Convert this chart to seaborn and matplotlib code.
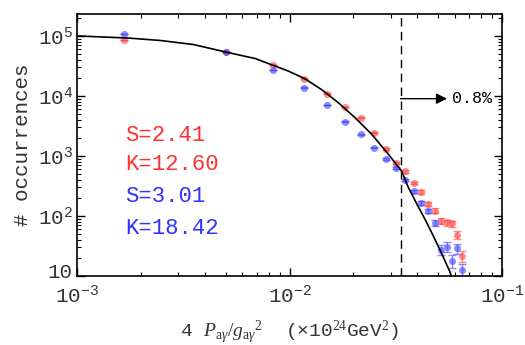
import matplotlib
matplotlib.use("Agg")
import matplotlib.pyplot as plt
import matplotlib.transforms as mtransforms
import seaborn as sns
from matplotlib.ticker import FixedLocator, LogLocator, NullFormatter, FixedFormatter

# ---- data ----
bin_x = [0.00167, 0.0050, 0.00833, 0.01167, 0.0150, 0.01833, 0.02167, 0.0250, 0.02833, 0.03167,
         0.0350, 0.03833, 0.04167, 0.0450, 0.04833, 0.05167, 0.0550, 0.05833, 0.06167, 0.0650]
red_counts = [86000, 54000, 32400, 19400, 10900, 6560, 4360, 2450, 1300, 767,
              551, 356, 250, 161, 123, 83, 78, 75, 49, 21.6]
red_err = [290, 230, 180, 140, 104, 81, 66, 49, 36, 28, 23, 19, 16, 13, 11, 9, 9, 9, 7, 4.6]
blue_counts = [107000, 54000, 27000, 13800, 7080, 3700, 2300, 1370, 877, 628,
               396, 260, 166, 121, 76, 27.6, 31, 18, 29, 12.4]
blue_err = [330, 230, 164, 117, 84, 61, 48, 37, 30, 25, 20, 16, 13, 11, 8.7, 5.3, 5.6, 4.2, 5.4, 3.5]

curve_x = [0.001, 0.00175, 0.00246, 0.00352, 0.005, 0.00689, 0.00986, 0.01183, 0.01418, 0.01698,
           0.02034, 0.02436, 0.02918, 0.0337, 0.0362, 0.0398, 0.0435, 0.0473, 0.052, 0.0569, 0.058]
curve_y = [100000, 92000, 84000, 72000, 54000, 42000, 26000, 19300, 12700, 7700,
           4340, 2300, 1070, 560, 302, 157, 87, 48, 23.7, 11.7, 9.5]

cut_x = 0.0333
arrow_end_x = 0.0551
arrow_y = 9000
pct_label = "0.8%"

stats_red = ["S=2.41", "K=12.60"]
stats_blue = ["S=3.01", "K=18.42"]

ytick_vals = [10, 100, 1000, 10000, 100000]
ytick_labels = ["10", r"$\mathdefault{10^{2}}$", r"$\mathdefault{10^{3}}$",
                r"$\mathdefault{10^{4}}$", r"$\mathdefault{10^{5}}$"]
xtick_vals = [0.001, 0.01, 0.1]
xtick_labels = [r"$\mathdefault{10^{-3}}$", r"$\mathdefault{10^{-2}}$", r"$\mathdefault{10^{-1}}$"]

# ---- style ----
sns.set_theme(style="ticks")
plt.rcParams["font.family"] = ["Liberation Mono", "DejaVu Sans"]
plt.rcParams["mathtext.fontset"] = "custom"
plt.rcParams["mathtext.rm"] = "Liberation Serif"
plt.rcParams["mathtext.it"] = "Liberation Serif:italic"
plt.rcParams["axes.unicode_minus"] = True

RED_PT = "#ff4040"
BLUE_PT = "#4040ff"
RED_TXT = "#ff3030"
BLUE_TXT = "#3030ff"

fig = plt.figure(figsize=(5.25, 3.45), dpi=100)
ax = fig.add_axes([77 / 525, 1 - 276 / 345, 425 / 525, 262 / 345])
ax.set_facecolor("white")
ax.set_xscale("log")
ax.set_yscale("log")
ax.set_xlim(1e-3, 1e-1)
ax.set_ylim(10, 10 ** 5.365)

# curve
sns.lineplot(x=curve_x, y=curve_y, ax=ax, color="black", lw=1.2, sort=False, zorder=3)

# data points with error bars
for xs, ys, es, col in [(bin_x, red_counts, red_err, RED_PT), (bin_x, blue_counts, blue_err, BLUE_PT)]:
    ax.errorbar(xs, ys, yerr=es, fmt="none", ecolor=col, elinewidth=1.0, capsize=3,
                capthick=1.0, alpha=0.6, zorder=2)
    sns.scatterplot(x=xs, y=ys, ax=ax, color=col, s=26, alpha=0.6, linewidth=0, zorder=2)

# cut line + arrow
ax.axvline(cut_x, color="black", lw=1.0, ls=(0, (6, 4)), zorder=1)
ax.annotate("", xy=(arrow_end_x, arrow_y), xytext=(cut_x, arrow_y),
            arrowprops=dict(arrowstyle="-|>", color="black", lw=1.0, mutation_scale=16,
                            shrinkA=0, shrinkB=0))
ax.text(0.0582, arrow_y, pct_label, fontsize=12, va="center", ha="left", color="black")

# stats text
ypos = [0.538, 0.424, 0.302, 0.183]
labels = stats_red + stats_blue
cols = [RED_TXT, RED_TXT, BLUE_TXT, BLUE_TXT]
for yp, t, c in zip(ypos, labels, cols):
    ax.text(0.113, yp, t, transform=ax.transAxes, color=c, fontsize=16, va="center", ha="left")

# ticks
ax.yaxis.set_major_locator(FixedLocator(ytick_vals))
ax.yaxis.set_major_formatter(FixedFormatter(ytick_labels))
ax.yaxis.set_minor_locator(LogLocator(base=10, subs=range(2, 10), numticks=20))
ax.yaxis.set_minor_formatter(NullFormatter())
ax.xaxis.set_major_locator(FixedLocator(xtick_vals))
ax.xaxis.set_major_formatter(FixedFormatter(xtick_labels))
ax.xaxis.set_minor_locator(LogLocator(base=10, subs=range(2, 10), numticks=20))
ax.xaxis.set_minor_formatter(NullFormatter())
ax.tick_params(which="both", direction="in", top=True, right=True, color="black",
               labelcolor="#333333", labelsize=15)
ax.tick_params(which="major", length=6, width=1.0)
ax.tick_params(axis="y", which="major", pad=3)
ax.tick_params(axis="x", which="major", pad=6)
ax.tick_params(which="minor", length=3, width=0.8)
for s in ax.spines.values():
    s.set_color("black")
    s.set_linewidth(1.2)

ax.set_ylabel("# occurrences", fontsize=15, color="#333333")
ax.yaxis.set_label_coords(-0.105, 0.5)
ax.set_xlabel(r"4 $P_{\mathrm{a}\gamma}/g_{\mathrm{a}\gamma}{}^{2}$  (×10$^{24}$GeV$^{2}$)",
              fontsize=14, color="#333333", va="top")
ax.xaxis.set_label_coords(0.5, -0.165)

# nudge the bottom y label ("10") up a little, as in the reference
fig.canvas.draw()
bottom_tick = ax.yaxis.get_major_ticks()[0]
bottom_tick.label1.set_transform(bottom_tick.label1.get_transform()
                                 + mtransforms.ScaledTranslation(0, 5 / 100, fig.dpi_scale_trans))

fig.savefig("out.png", dpi=100)
